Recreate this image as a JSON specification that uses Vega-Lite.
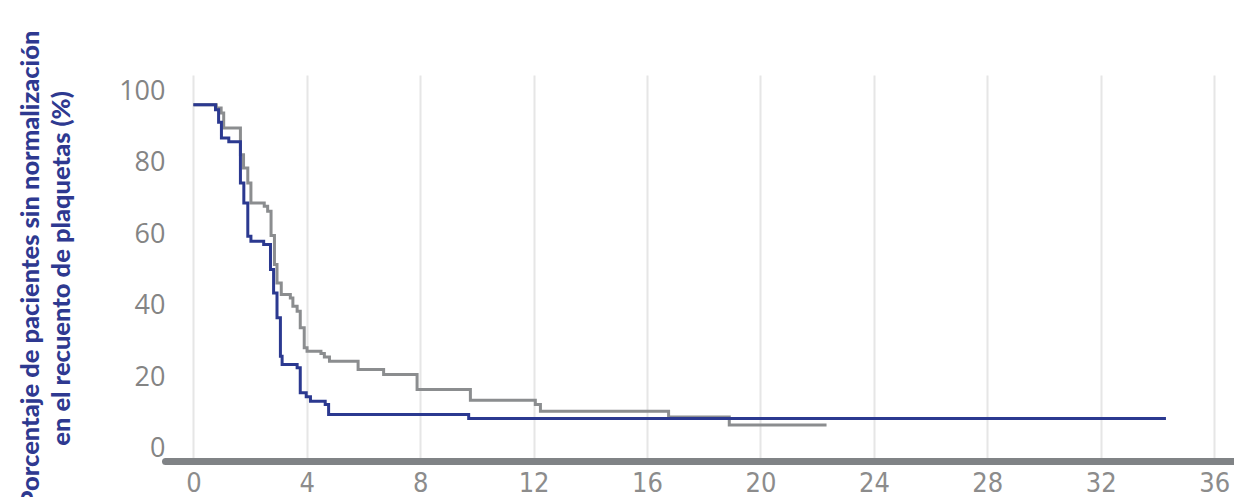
{
  "$schema": "https://vega.github.io/schema/vega-lite/v6.json",
  "width": 1069,
  "height": 386,
  "autosize": {"type": "none"},
  "padding": {"left": 165, "top": 75, "right": 0, "bottom": 36},
  "background": "white",
  "config": {"view": {"stroke": null}},
  "data": {"values": [
    {"serie": "A", "mes": 0, "pct": 96.2},
    {"serie": "A", "mes": 0.81, "pct": 95.3},
    {"serie": "A", "mes": 0.98, "pct": 93.9},
    {"serie": "A", "mes": 1.07, "pct": 89.7},
    {"serie": "A", "mes": 1.66, "pct": 82.2},
    {"serie": "A", "mes": 1.77, "pct": 78.5},
    {"serie": "A", "mes": 1.92, "pct": 74.3},
    {"serie": "A", "mes": 2.03, "pct": 68.7},
    {"serie": "A", "mes": 2.50, "pct": 67.8},
    {"serie": "A", "mes": 2.62, "pct": 66.4},
    {"serie": "A", "mes": 2.74, "pct": 59.6},
    {"serie": "A", "mes": 2.86, "pct": 51.5},
    {"serie": "A", "mes": 2.95, "pct": 46.3},
    {"serie": "A", "mes": 3.10, "pct": 43.1},
    {"serie": "A", "mes": 3.42, "pct": 42.1},
    {"serie": "A", "mes": 3.51, "pct": 39.8},
    {"serie": "A", "mes": 3.66, "pct": 38.4},
    {"serie": "A", "mes": 3.77, "pct": 33.8},
    {"serie": "A", "mes": 3.91, "pct": 28.2},
    {"serie": "A", "mes": 4.01, "pct": 27.2},
    {"serie": "A", "mes": 4.50, "pct": 26.6},
    {"serie": "A", "mes": 4.62, "pct": 25.6},
    {"serie": "A", "mes": 4.80, "pct": 24.4},
    {"serie": "A", "mes": 5.81, "pct": 22.1},
    {"serie": "A", "mes": 6.71, "pct": 20.7},
    {"serie": "A", "mes": 7.89, "pct": 16.5},
    {"serie": "A", "mes": 9.77, "pct": 13.5},
    {"serie": "A", "mes": 12.06, "pct": 12.3},
    {"serie": "A", "mes": 12.24, "pct": 10.4},
    {"serie": "A", "mes": 16.76, "pct": 8.8},
    {"serie": "A", "mes": 18.9, "pct": 6.6},
    {"serie": "A", "mes": 22.33, "pct": 6.6},
    {"serie": "B", "mes": 0, "pct": 96.2},
    {"serie": "B", "mes": 0.78, "pct": 94.8},
    {"serie": "B", "mes": 0.89, "pct": 91.3},
    {"serie": "B", "mes": 0.99, "pct": 86.9},
    {"serie": "B", "mes": 1.25, "pct": 85.8},
    {"serie": "B", "mes": 1.66, "pct": 74.3},
    {"serie": "B", "mes": 1.78, "pct": 68.7},
    {"serie": "B", "mes": 1.92, "pct": 59.4},
    {"serie": "B", "mes": 2.03, "pct": 58.0},
    {"serie": "B", "mes": 2.48, "pct": 57.1},
    {"serie": "B", "mes": 2.72, "pct": 50.1},
    {"serie": "B", "mes": 2.83, "pct": 43.5},
    {"serie": "B", "mes": 2.95, "pct": 36.6},
    {"serie": "B", "mes": 3.07, "pct": 25.8},
    {"serie": "B", "mes": 3.13, "pct": 23.5},
    {"serie": "B", "mes": 3.66, "pct": 22.6},
    {"serie": "B", "mes": 3.77, "pct": 15.6},
    {"serie": "B", "mes": 3.98, "pct": 14.5},
    {"serie": "B", "mes": 4.13, "pct": 13.2},
    {"serie": "B", "mes": 4.65, "pct": 12.3},
    {"serie": "B", "mes": 4.77, "pct": 9.5},
    {"serie": "B", "mes": 9.71, "pct": 8.4},
    {"serie": "B", "mes": 34.3, "pct": 8.4}
  ]},
  "mark": {"type": "line", "interpolate": "step-after", "strokeWidth": 3, "clip": true},
  "encoding": {
    "x": {
      "field": "mes", "type": "quantitative",
      "scale": {"domain": [-1, 36.7], "nice": false, "zero": false},
      "axis": {
        "title": null,
        "values": [0, 4, 8, 12, 16, 20, 24, 28, 32, 36],
        "grid": true, "gridColor": "#e6e6e6", "gridWidth": 2,
        "domain": true, "domainColor": "#808386", "domainWidth": 7, "domainCap": "round",
        "ticks": false, "tickSize": 0,
        "labelPadding": 9, "labelBaseline": "top",
        "labelFont": "DejaVu Sans Condensed", "labelFontSize": 27, "labelColor": "#8c8c8c", "labelFontWeight": 300,
        "labelFlush": false
      }
    },
    "y": {
      "field": "pct", "type": "quantitative",
      "scale": {"domain": [-3.5, 104.5], "nice": false, "zero": false},
      "axis": {
        "title": ["Porcentaje de pacientes sin normalización", "en el recuento de plaquetas (%)"],
        "titleFont": "Lato", "titleFontSize": 25.5, "titleFontWeight": 900, "titleColor": "#2e3990",
        "titleLineHeight": 31, "titlePadding": 44,
        "values": [0, 20, 40, 60, 80, 100],
        "grid": false, "domain": false, "ticks": false, "tickSize": 0,
        "labelPadding": 0,
        "labelFont": "Open Sans", "labelFontSize": 27, "labelColor": "#848484", "labelFontWeight": "normal"
      }
    },
    "color": {
      "field": "serie", "type": "nominal",
      "scale": {"domain": ["A", "B"], "range": ["#8b8d8f", "#2b3990"]},
      "legend": null
    },
    "order": {"field": "serie"}
  }
}
